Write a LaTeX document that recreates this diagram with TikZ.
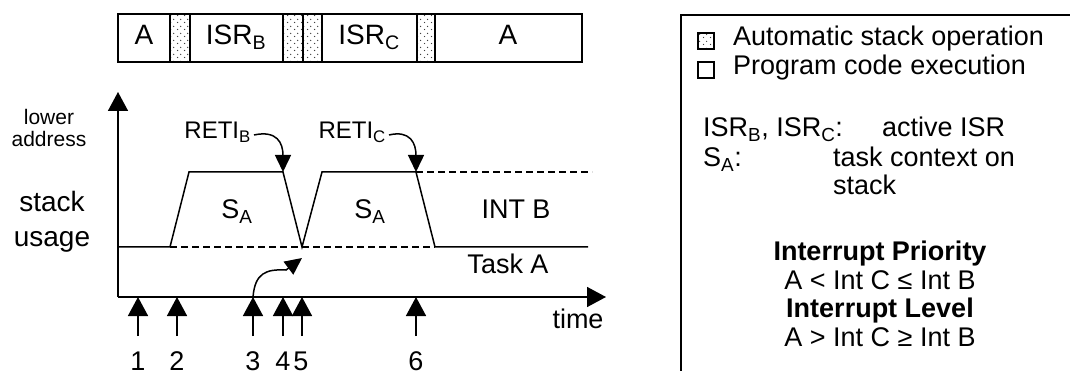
\documentclass[tikz,border=0pt]{standalone}
\usepackage{fontspec}
\setmainfont{Liberation Sans}
\usetikzlibrary{arrows.meta,patterns.meta}

% sparse grey dots for the automatic stack operation cells
\tikzdeclarepattern{
  name=stackdots,
  type=uncolored,
  bounding box={(0pt,0pt) and (6.5pt,6.5pt)},
  tile size={(6.5pt,6.5pt)},
  code={
    \pgfpathcircle{\pgfpoint{1.6pt}{1.6pt}}{0.75pt}
    \pgfpathcircle{\pgfpoint{4.85pt}{4.85pt}}{0.75pt}
    \pgfusepath{fill}
  }
}

\tikzset{
  lbl/.style={font=\fontsize{27}{31}\selectfont, inner sep=0pt, text height=0.716em, text depth=0pt},
  barlbl/.style={lbl, font=\fontsize{28}{32}\selectfont},
  small/.style={font=\fontsize{21}{24}\selectfont, inner sep=0pt, text height=0.716em, text depth=0pt},
  reti/.style={font=\fontsize{24}{28}\selectfont, inner sep=0pt, text height=0.716em, text depth=0pt},
  bold/.style={lbl, font=\fontsize{27}{31}\selectfont\bfseries},
  cell/.style={draw, line width=1.5pt},
  autocell/.style={cell, pattern=stackdots, pattern color=black!75},
  axis/.style={line width=1.5pt, -{Triangle[width=20pt,length=19pt]}},
  evarrow/.style={line width=1.5pt, -{Triangle[width=20pt,length=19pt]}},
  curvearrow/.style={line width=1.5pt, -{Triangle[width=16pt,length=17pt]}},
  level/.style={line width=1.5pt, line join=miter},
  guide/.style={line width=1.5pt, dashed, dash pattern=on 7pt off 4pt},
  legsq/.style={draw, line width=1.2pt, minimum size=16pt, inner sep=0pt},
}

\begin{document}
\begin{tikzpicture}[x=1pt, y=-1pt]
\useasboundingbox (0,0) rectangle (1070,371);
\clip (0,0) rectangle (1070,371);

% ---------- execution bar ----------
\draw[cell] (118,14) rectangle (170,62);
\draw[autocell] (170,14) rectangle (190,62);
\draw[cell] (190,14) rectangle (283,62);
\draw[autocell] (283,14) rectangle (303,62);
\draw[autocell] (303,14) rectangle (322,62);
\draw[cell] (322,14) rectangle (417,62);
\draw[autocell] (417,14) rectangle (435,62);
\draw[cell] (435,14) rectangle (582,62);
\node[barlbl] (barA1) at (144,41) {A};
\node[barlbl] (barB) at (236,41) {ISR\textsubscript{B}};
\node[barlbl] (barC) at (369,41) {ISR\textsubscript{C}};
\node[barlbl] (barA2) at (508,41) {A};

% ---------- axes ----------
\coordinate (origin) at (118,297);
\coordinate (ytip) at (118,92);
\coordinate (xtip) at (606,297);
\draw[axis] (origin) -- (ytip);
\draw[axis] (origin) -- (xtip);
\node[lbl] (time) at (578,325) {time};
\node[small] (lower) at (49,121) {lower};
\node[small] (addr) at (49,143) {address};
\node[lbl, font=\fontsize{28}{32}\selectfont] (stk) at (52,208) {stack};
\node[lbl, font=\fontsize{28}{32}\selectfont] (usg) at (52,243) {usage};

% ---------- stack level ----------
\coordinate (p0) at (118,247);
\coordinate (p1) at (170,247);
\coordinate (p2) at (189,172);
\coordinate (p3) at (283,172);
\coordinate (p4) at (302,247);
\coordinate (p5) at (322,172);
\coordinate (p6) at (416,172);
\coordinate (p7) at (435,247);
\coordinate (p8) at (588,247);
\coordinate (q1) at (592,172);
\draw[level] (p0) -- (p1) -- (p2) -- (p3) -- (p4) -- (p5) -- (p6) -- (p7) -- (p8);
\draw[guide] (p1) -- (p7);
\draw[guide] (p6) -- (q1);

\node[lbl] (sa1) at (237,215) {S\textsubscript{A}};
\node[lbl] (sa2) at (370,215) {S\textsubscript{A}};
\node[lbl] (intb) at (516,215) {INT B};
\node[lbl] (taska) at (508,270) {Task A};

% ---------- return markers ----------
\node[reti, anchor=east] (retib) at (251,135) {RETI\textsubscript{B}};
\node[reti, anchor=east] (retic) at (386,135) {RETI\textsubscript{C}};
\draw[curvearrow] ([xshift=3pt]retib.east) .. controls (277,130) and (283,143) .. (p3);
\draw[curvearrow] ([xshift=3pt]retic.east) .. controls (410,130) and (416,143) .. (p6);

% ---------- events ----------
\foreach \n/\x in {1/138, 2/177, 3/253, 4/283, 5/302, 6/416} {
  \coordinate (e\n) at (\x,297);
  \coordinate (s\n) at (\x,336);
  \draw[evarrow] (s\n) -- (e\n);
}
\node[lbl] (n1) at (138,367) {1};
\node[lbl] (n2) at (177,367) {2};
\node[lbl] (n3) at (253,367) {3};
\node[lbl] (n4) at (283,367) {4};
\node[lbl] (n5) at (301,367) {5};
\node[lbl] (n6) at (416,367) {6};
% pending interrupt C
\coordinate (pend) at (302,258);
\draw[curvearrow] (e3) .. controls (255,273) and (266,269) .. (286,270) -- (pend);

% ---------- legend panel ----------
\draw[line width=1.5pt] (1080,15) -- (681,15) -- (681,380);
\node[legsq, pattern=stackdots, pattern color=black!75] (sq1) at (706,41) {};
\node[legsq] (sq2) at (706,70) {};
\node[lbl, anchor=west] (leg1) at (733,42) {Automatic stack operation};
\node[lbl, anchor=west] (leg2) at (733,71) {Program code execution};
\node[lbl, anchor=west] (k1) at (703,133) {ISR\textsubscript{B}, ISR\textsubscript{C}:};
\node[lbl, anchor=west] (v1) at (882,133) {active ISR};
\node[lbl, anchor=west] (k2) at (703,163) {S\textsubscript{A}:};
\node[lbl, anchor=west] (v2) at (833,163) {task context on};
\node[lbl, anchor=west] (v3) at (833,191) {stack};
\node[bold] (prio) at (880,257) {Interrupt Priority};
\node[lbl] (prio2) at (880,286) {A < Int C ≤ Int B};
\node[bold] (levl) at (880,314) {Interrupt Level};
\node[lbl] (levl2) at (880,343) {A > Int C ≥ Int B};
\end{tikzpicture}
\end{document}
